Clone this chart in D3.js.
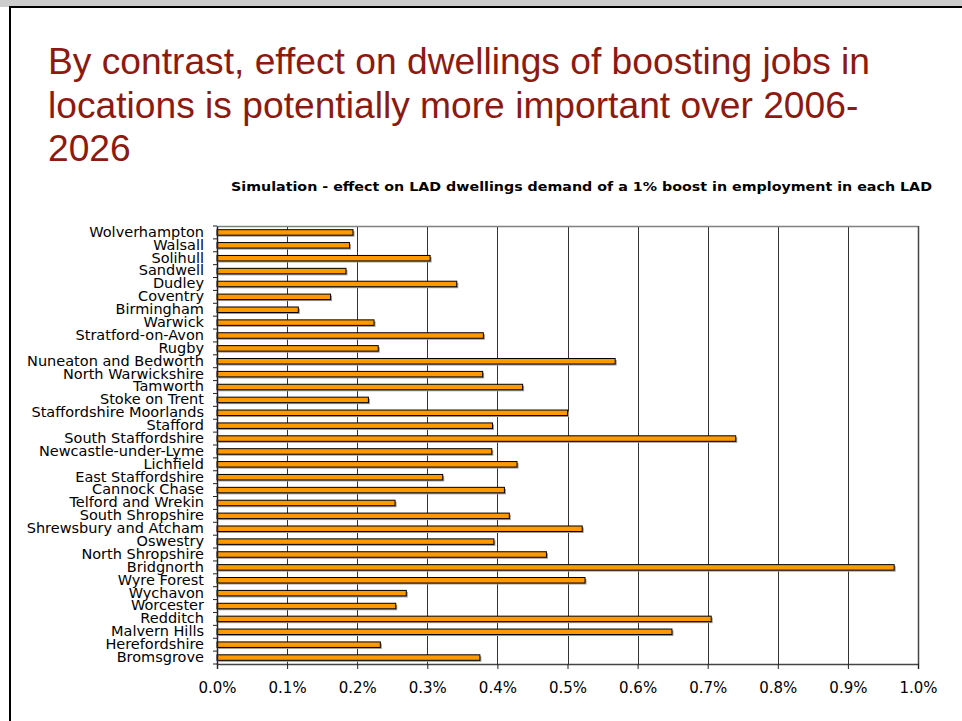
<!DOCTYPE html>
<html>
<head>
<meta charset="utf-8">
<script src="https://cdn.jsdelivr.net/npm/d3@7"></script>
<style>
  html, body { margin: 0; padding: 0; background: #fff; }
  svg { display: block; }
</style>
</head>
<body>
<svg id="chart" width="962" height="721"></svg>
<script>
const titleLines = [
  "By contrast, effect on dwellings of boosting jobs in",
  "locations is potentially more important over 2006-",
  "2026"
];
const chartTitle = "Simulation - effect on LAD dwellings demand of a 1% boost in employment in each LAD";

const categories = [
  "Wolverhampton", "Walsall", "Solihull", "Sandwell", "Dudley", "Coventry",
  "Birmingham", "Warwick", "Stratford-on-Avon", "Rugby", "Nuneaton and Bedworth",
  "North Warwickshire", "Tamworth", "Stoke on Trent", "Staffordshire Moorlands",
  "Stafford", "South Staffordshire", "Newcastle-under-Lyme", "Lichfield",
  "East Staffordshire", "Cannock Chase", "Telford and Wrekin", "South Shropshire",
  "Shrewsbury and Atcham", "Oswestry", "North Shropshire", "Bridgnorth",
  "Wyre Forest", "Wychavon", "Worcester", "Redditch", "Malvern Hills",
  "Herefordshire", "Bromsgrove"
];
// effect on dwellings demand, in percent
const values = [
  0.194, 0.189, 0.304, 0.184, 0.342, 0.162,
  0.116, 0.224, 0.380, 0.230, 0.568,
  0.379, 0.436, 0.216, 0.500,
  0.393, 0.740, 0.392, 0.428,
  0.322, 0.410, 0.254, 0.417,
  0.521, 0.395, 0.470, 0.966,
  0.525, 0.270, 0.255, 0.705, 0.649,
  0.233, 0.375
];
const xTicks = [0.0, 0.1, 0.2, 0.3, 0.4, 0.5, 0.6, 0.7, 0.8, 0.9, 1.0];

(function () {
const svg = d3.select("#chart");

// slide background / frame
svg.append("rect").attr("x", 0).attr("y", 0).attr("width", 962).attr("height", 7).attr("fill", "#cccccc");
svg.append("line").attr("x1", 9).attr("x2", 962).attr("y1", 7).attr("y2", 7).attr("stroke", "#000").attr("stroke-width", 2);
svg.append("line").attr("x1", 10).attr("x2", 10).attr("y1", 6).attr("y2", 721).attr("stroke", "#000").attr("stroke-width", 2);

// slide title
svg.append("g").selectAll("text").data(titleLines).join("text")
  .attr("x", 48)
  .attr("y", (d, i) => 74 + i * 43.5)
  .attr("font-family", "Liberation Sans, Arial, sans-serif")
  .attr("font-size", 37.2)
  .attr("fill", "#8c1a10")
  .text(d => d);

// chart title
svg.append("text")
  .attr("x", 231)
  .attr("y", 191)
  .attr("font-family", "DejaVu Sans, Verdana, sans-serif")
  .attr("font-weight", "bold")
  .attr("font-size", 12.5)
  .attr("textLength", 701)
  .attr("lengthAdjust", "spacingAndGlyphs")
  .attr("fill", "#000")
  .text(chartTitle);

const pLeft = 217, pRight = 918, pTop = 226, pBottom = 664;

const x = d3.scaleLinear().domain([0, 1.0]).range([pLeft, pRight]);
const y = d3.scaleBand().domain(categories).range([pTop, pBottom]).paddingInner(0).paddingOuter(0);

// plot background
svg.append("rect").attr("x", pLeft).attr("y", pTop).attr("width", pRight - pLeft).attr("height", pBottom - pTop).attr("fill", "#fff");

// gridlines
svg.append("g").selectAll("line").data(xTicks.slice(1, -1)).join("line")
  .attr("x1", d => Math.round(x(d)) + 0.5).attr("x2", d => Math.round(x(d)) + 0.5)
  .attr("y1", pTop).attr("y2", pBottom)
  .attr("stroke", "#333").attr("stroke-width", 1);

// plot border
svg.append("line").attr("x1", pLeft).attr("x2", pRight).attr("y1", pTop + 0.5).attr("y2", pTop + 0.5).attr("stroke", "#808080").attr("stroke-width", 1.5);
svg.append("line").attr("x1", pRight + 0.5).attr("x2", pRight + 0.5).attr("y1", pTop).attr("y2", pBottom).attr("stroke", "#444").attr("stroke-width", 1.5);

// bars
const barH = 5.5;
const bars = svg.append("g");
bars.selectAll("rect.shadow").data(values).join("rect")
  .attr("class", "shadow")
  .attr("x", x(0) + 1.5)
  .attr("y", (d, i) => y(categories[i]) + (y.bandwidth() - barH) / 2 + 1.5)
  .attr("width", d => x(d) - x(0))
  .attr("height", barH)
  .attr("fill", "#9a9a9a");
bars.selectAll("rect.bar").data(values).join("rect")
  .attr("class", "bar")
  .attr("x", x(0))
  .attr("y", (d, i) => y(categories[i]) + (y.bandwidth() - barH) / 2)
  .attr("width", d => x(d) - x(0))
  .attr("height", barH)
  .attr("fill", "#ff9900")
  .attr("stroke", "#000")
  .attr("stroke-width", 1);

// x axis
const xAxis = d3.axisBottom(x).tickValues(xTicks).tickFormat(d => d3.format(".1f")(d) + "%").tickSize(5).tickPadding(13);
const gx = svg.append("g").attr("transform", `translate(0,${pBottom})`).call(xAxis);
gx.select(".domain").attr("stroke", "#444").attr("stroke-width", 1.5);
gx.selectAll(".tick line").attr("stroke", "#222");
gx.selectAll("text").attr("font-family", "DejaVu Sans, Verdana, sans-serif").attr("font-size", 15).attr("fill", "#000");

// y axis
const yAxis = d3.axisLeft(y).tickSize(0).tickPadding(13);
const gy = svg.append("g").attr("transform", `translate(${pLeft},0)`).call(yAxis);
gy.select(".domain").attr("stroke", "#222").attr("stroke-width", 1.5);
gy.selectAll("text")
  .attr("font-family", "DejaVu Sans, Verdana, sans-serif")
  .attr("font-size", 14.5)
  .attr("fill", "#000")
  .attr("dy", "0.3em");
// boundary ticks between categories
svg.append("g").selectAll("line").data(d3.range(categories.length + 1)).join("line")
  .attr("x1", pLeft - 4).attr("x2", pLeft)
  .attr("y1", i => pTop + i * y.step()).attr("y2", i => pTop + i * y.step())
  .attr("stroke", "#222");
})();
</script>
</body>
</html>
